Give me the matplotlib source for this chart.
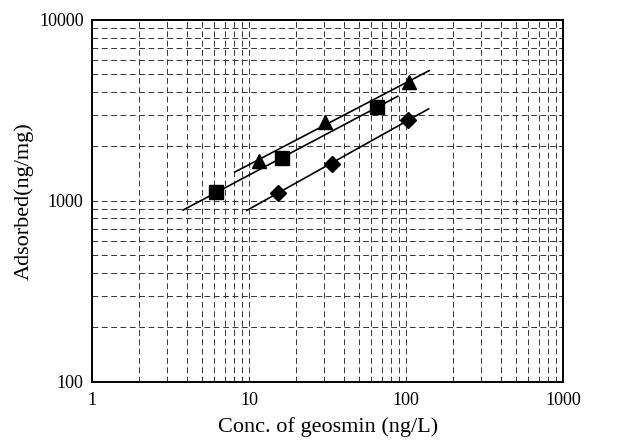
import matplotlib

matplotlib.use("Agg")
import matplotlib.pyplot as plt
import numpy as np

plt.rcParams["font.family"] = ["Liberation Serif", "DejaVu Serif"]

# geosmin adsorption isotherms
tri_x = [11.5, 30.5, 105.0]
tri_y = [1660, 2717, 4540]
sq_x = [6.2, 16.3, 65.6]
sq_y = [1120, 1726, 3311]
dia_x = [15.2, 33.8, 102.8]
dia_y = [1110, 1607, 2800]

# extent of each fitted line
tri_fit_x = [8.1, 140.0]
sq_fit_x = [3.8, 88.5]
dia_fit_x = [9.7, 139.0]

xticks = [1, 10, 100, 1000]
yticks = [100, 1000, 10000]


def freundlich_line(x, y, xr):
    k, b = np.polyfit(np.log10(x), np.log10(y), 1)
    xs = np.array(xr)
    return xs, 10 ** (k * np.log10(xs) + b)


fig = plt.figure(figsize=(6.3, 4.44), dpi=100)
ax = fig.add_axes([0.146, 0.140, 0.748, 0.815])
ax.set_xscale("log")
ax.set_yscale("log")
ax.set_xlim(1, 1000)
ax.set_ylim(100, 10000)

for x, y, xr, m, ms in [
    (tri_x, tri_y, tri_fit_x, "^", 10),
    (sq_x, sq_y, sq_fit_x, "s", 10),
    (dia_x, dia_y, dia_fit_x, "D", 8),
]:
    lx, ly = freundlich_line(x, y, xr)
    ax.plot(lx, ly, color="black", lw=1.2, zorder=3)
    ax.plot(x, y, ls="none", marker=m, ms=ms, color="black", zorder=4)

ax.grid(True, which="both", ls=(0, (6, 3.6)), color="#333333", lw=0.7)
ax.set_xticks(xticks)
ax.set_xticklabels([str(t) for t in xticks])
ax.set_yticks(yticks)
ax.set_yticklabels([str(t) for t in yticks])
ax.tick_params(axis="x", which="both", length=0, labelsize=13, pad=7)
ax.tick_params(axis="y", which="both", length=0, labelsize=13, pad=6)
for s in ax.spines.values():
    s.set_linewidth(1.4)

ax.set_xlabel("Conc. of geosmin (ng/L)", fontsize=16, labelpad=6)
ax.set_ylabel("Adsorbed(ng/mg)", fontsize=16, labelpad=4)

fig.savefig("out.png", dpi=100)
